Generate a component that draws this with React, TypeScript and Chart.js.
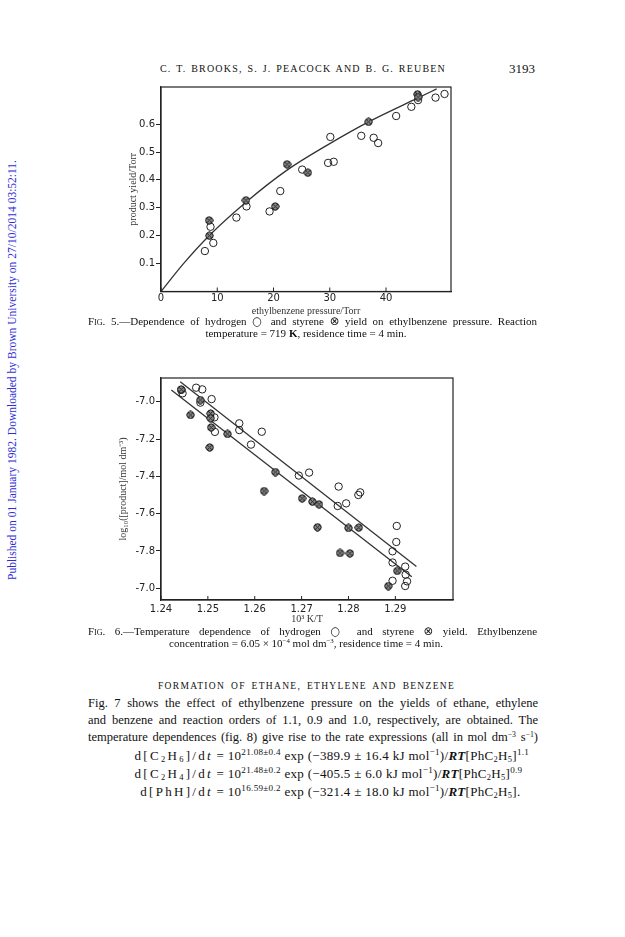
import React, { useEffect, useRef } from "react";
import { Chart, registerables } from "chart.js";
Chart.register(...registerables);

// ---------- Fig. 5 data ----------
const h2Pressure = [7.8, 8.8, 9.3, 13.4, 15.2, 19.3, 21.2, 25.1, 29.7, 30.7, 30.1, 35.6, 37.8, 38.6, 41.8, 44.5, 45.7, 48.8, 50.4];
const h2Yield = [0.145, 0.232, 0.174, 0.265, 0.305, 0.287, 0.36, 0.437, 0.461, 0.465, 0.554, 0.558, 0.551, 0.532, 0.629, 0.662, 0.686, 0.695, 0.708];
const styPressure = [8.55, 8.6, 15.1, 20.3, 22.4, 26.1, 36.9, 45.6, 45.7];
const styYield = [0.255, 0.2, 0.327, 0.305, 0.456, 0.426, 0.608, 0.707, 0.697];
const fitPressure = [0, 4, 8.55, 15.1, 22.4, 30, 36.9, 45.6, 49];
const fitYield = [0, 0.1, 0.2, 0.32, 0.435, 0.53, 0.608, 0.693, 0.726];
const fig5XTicks = [0, 10, 20, 30, 40];
const fig5XLabels = ["0", "10", "20", "30", "40"];
const fig5YTicks = [0.1, 0.2, 0.3, 0.4, 0.5, 0.6];
const fig5YLabels = ["0.1", "0.2", "0.3", "0.4", "0.5", "0.6"];

// ---------- Fig. 6 data ----------
const h2InvT = [1.2443, 1.2446, 1.2475, 1.2488, 1.2484, 1.2508, 1.2514, 1.2515, 1.2567, 1.2567, 1.2615, 1.2592, 1.2694, 1.2716, 1.2779, 1.2777, 1.2795, 1.2821, 1.2825, 1.2903, 1.2902, 1.2894, 1.2894, 1.2894, 1.2921, 1.2922, 1.2925, 1.2921];
const h2LogConc = [-6.937, -6.955, -6.925, -6.934, -7.005, -6.986, -7.084, -7.162, -7.116, -7.152, -7.161, -7.23, -7.396, -7.38, -7.455, -7.559, -7.545, -7.5, -7.486, -7.666, -7.752, -7.802, -7.862, -7.96, -7.884, -7.927, -7.963, -7.988];
const styInvT = [1.2443, 1.2463, 1.2484, 1.2506, 1.2506, 1.2507, 1.2504, 1.2542, 1.2644, 1.262, 1.2701, 1.2723, 1.2737, 1.2734, 1.28, 1.2822, 1.2782, 1.2803, 1.2904, 1.2885];
const styLogConc = [-6.934, -7.071, -6.991, -7.063, -7.089, -7.138, -7.245, -7.173, -7.377, -7.479, -7.518, -7.536, -7.55, -7.673, -7.677, -7.675, -7.811, -7.813, -7.907, -7.988];
const h2LineInvT = [1.2441, 1.2945];
const h2LineLog = [-6.893, -7.884];
const styLineInvT = [1.2422, 1.2935];
const styLineLog = [-6.937, -7.938];
const fig6XTicks = [1.24, 1.25, 1.26, 1.27, 1.28, 1.29];
const fig6XLabels = ["1.24", "1.25", "1.26", "1.27", "1.28", "1.29"];
const fig6YTicks = [-7.0, -7.2, -7.4, -7.6, -7.8, -8.0];
const fig6YLabels = ["-7.0", "-7.2", "-7.4", "-7.6", "-7.8", "-7.0"];

const INK = "#222";
const TICK_FONT = { family: '"DejaVu Sans", sans-serif', size: 10 };
const SERIF = '"Liberation Serif", "Times New Roman", serif';

const zip = (xs: number[], ys: number[]) => xs.map((x, i) => ({ x, y: ys[i] }));

function makeCrossCircle(): HTMLCanvasElement {
  const dpr = 3;
  const s = 9;
  const c = document.createElement("canvas");
  c.width = s * dpr;
  c.height = s * dpr;
  const ctx = c.getContext("2d")!;
  ctx.scale(dpr, dpr);
  ctx.beginPath();
  ctx.arc(4.5, 4.5, 3.6, 0, Math.PI * 2);
  ctx.fillStyle = "#8a8a8a";
  ctx.fill();
  ctx.lineWidth = 1;
  ctx.strokeStyle = INK;
  ctx.stroke();
  ctx.beginPath();
  ctx.moveTo(2.0, 2.0);
  ctx.lineTo(7.0, 7.0);
  ctx.moveTo(7.0, 2.0);
  ctx.lineTo(2.0, 7.0);
  ctx.stroke();
  const out = document.createElement("canvas");
  out.width = s;
  out.height = s;
  const o = out.getContext("2d")!;
  o.drawImage(c, 0, 0, s, s);
  return out;
}

const framePlugin = {
  id: "frame",
  afterDraw(chart: any) {
    const { ctx, chartArea: a, scales } = chart;
    ctx.save();
    ctx.strokeStyle = INK;
    ctx.lineWidth = 1.2;
    ctx.strokeRect(a.left, a.top, a.right - a.left, a.bottom - a.top);
    const xs = scales.x;
    ctx.lineWidth = 1;
    xs.ticks.forEach((t: any) => {
      const px = xs.getPixelForValue(t.value);
      ctx.beginPath();
      ctx.moveTo(px, a.bottom);
      ctx.lineTo(px, a.bottom - 4);
      ctx.stroke();
    });
    ctx.restore();
  },
};

function axisX(min: number, max: number, ticks: number[], labels: string[], title: string, height: number, pad: number) {
  return {
    type: "linear",
    min,
    max,
    afterBuildTicks: (s: any) => {
      s.ticks = ticks.map((v) => ({ value: v }));
    },
    afterFit: (s: any) => {
      s.height = height;
    },
    grid: { display: false, drawTicks: false },
    border: { display: true, color: INK, width: 1.2 },
    ticks: {
      color: INK,
      font: TICK_FONT,
      padding: pad,
      maxRotation: 0,
      autoSkip: false,
      callback: (_v: any, i: number) => labels[i],
    },
    title: {
      display: true,
      text: title,
      color: "#333",
      font: { family: SERIF, size: 10 },
      padding: { top: 0, bottom: 0 },
    },
  };
}

function axisY(min: number, max: number, ticks: number[], labels: string[], title: string, titlePad: number) {
  return {
    type: "linear",
    min,
    max,
    afterBuildTicks: (s: any) => {
      s.ticks = ticks.map((v) => ({ value: v }));
    },
    afterFit: (s: any) => {
      s.width = 61;
    },
    grid: { display: true, drawOnChartArea: false, drawTicks: true, tickLength: 5, color: INK, lineWidth: 1 },
    border: { display: true, color: INK, width: 1.2 },
    ticks: {
      color: INK,
      font: TICK_FONT,
      padding: 1,
      autoSkip: false,
      callback: (_v: any, i: number) => labels[i],
    },
    title: {
      display: true,
      text: title,
      color: "#333",
      font: { family: SERIF, size: 10 },
      padding: { top: titlePad, bottom: 0 },
    },
  };
}

function pointSet(label: string, data: any[], styrene: boolean, img: HTMLCanvasElement) {
  return styrene
    ? { label, data, showLine: false, pointStyle: img, pointRadius: 4.5, order: 1 }
    : {
        label,
        data,
        showLine: false,
        pointStyle: "circle",
        pointRadius: 3.7,
        borderWidth: 1,
        borderColor: INK,
        backgroundColor: "rgba(0,0,0,0)",
        order: 2,
      };
}

function lineSet(label: string, data: any[], smooth: boolean) {
  return {
    label,
    data,
    showLine: true,
    pointRadius: 0,
    borderColor: "#333",
    borderWidth: 1.3,
    tension: smooth ? 0.4 : 0,
    cubicInterpolationMode: smooth ? "monotone" : "default",
    order: 5,
  };
}

function Fig5() {
  const ref = useRef<HTMLCanvasElement>(null);
  useEffect(() => {
    const img = makeCrossCircle();
    const chart = new Chart(ref.current!, {
      type: "scatter",
      data: {
        datasets: [
          pointSet("hydrogen", zip(h2Pressure, h2Yield), false, img),
          pointSet("styrene", zip(styPressure, styYield), true, img),
          lineSet("fit", zip(fitPressure, fitYield), true),
        ] as any,
      },
      options: {
        responsive: false,
        animation: false,
        layout: { padding: { top: 7, right: 19, left: 0, bottom: 0 } },
        plugins: { legend: { display: false }, tooltip: { enabled: false } },
        scales: {
          x: axisX(0, 51.55, fig5XTicks, fig5XLabels, "ethylbenzene pressure/Torr", 25.5, 0.5),
          y: axisY(0, 0.733, fig5YTicks, fig5YLabels, "product yield/Torr", 27),
        } as any,
      },
      plugins: [framePlugin],
    });
    return () => chart.destroy();
  }, []);
  return <canvas ref={ref} width={370} height={237} style={{ position: "absolute", left: 100, top: 80 }} />;
}

function Fig6() {
  const ref = useRef<HTMLCanvasElement>(null);
  useEffect(() => {
    const img = makeCrossCircle();
    const chart = new Chart(ref.current!, {
      type: "scatter",
      data: {
        datasets: [
          pointSet("hydrogen", zip(h2InvT, h2LogConc), false, img),
          pointSet("styrene", zip(styInvT, styLogConc), true, img),
          lineSet("hydrogen fit", zip(h2LineInvT, h2LineLog), false),
          lineSet("styrene fit", zip(styLineInvT, styLineLog), false),
        ] as any,
      },
      options: {
        responsive: false,
        animation: false,
        layout: { padding: { top: 8, right: 17, left: 0, bottom: 0 } },
        plugins: { legend: { display: false }, tooltip: { enabled: false } },
        scales: {
          x: axisX(1.24, 1.3023, fig6XTicks, fig6XLabels, "10³ K/T", 25, 3),
          y: axisY(-8.063, -6.873, fig6YTicks, fig6YLabels, "log₁₀([product]/mol dm⁻³)", 17.5),
        } as any,
      },
      plugins: [framePlugin],
    });
    return () => chart.destroy();
  }, []);
  return <canvas ref={ref} width={370} height={255} style={{ position: "absolute", left: 100, top: 370 }} />;
}

type LineProps = {
  cy: number;
  left: number;
  width: number;
  size: number;
  align?: "justify" | "center" | "left" | "right";
  style?: React.CSSProperties;
  children: React.ReactNode;
};

function TextLine({ cy, left, width, size, align = "justify", style, children }: LineProps) {
  const lh = Math.round(size * 1.3);
  return (
    <div
      style={{
        position: "absolute",
        left,
        top: cy - lh / 2,
        width,
        height: lh,
        lineHeight: lh + "px",
        fontSize: size,
        whiteSpace: "nowrap",
        textAlign: align as any,
        textAlignLast: align as any,
        ...style,
      }}
    >
      {children}
    </div>
  );
}

const sub = (t: string) => <sub style={{ fontSize: "0.65em", verticalAlign: "-0.25em", lineHeight: 0 }}>{t}</sub>;
const sup = (t: string) => <sup style={{ fontSize: "0.62em", verticalAlign: "0.55em", lineHeight: 0 }}>{t}</sup>;
const esup = (t: string) => <sup style={{ fontSize: "0.7em", verticalAlign: "0.5em", lineHeight: 0 }}>{t}</sup>;
const RT = <b><i>RT</i></b>;
const dt = <>d<i>t</i></>;
const sym = (t: string) => <span style={{ fontFamily: '"DejaVu Sans", sans-serif', fontSize: "1.05em" }}>{t}</span>;

export default function App() {
  const eqLeft = 213;
  const eqSize = 13;
  const eqLeftStyle: React.CSSProperties = { letterSpacing: 2.3 };
  const eqRightStyle: React.CSSProperties = { letterSpacing: 0.3 };
  return (
    <div
      style={{
        position: "absolute",
        left: 0,
        top: 0,
        width: 625,
        height: 937,
        background: "#fff",
        color: "#111",
        fontFamily: SERIF,
        overflow: "hidden",
      }}
    >
      {/* side watermark */}
      <div
        style={{
          position: "absolute",
          left: 12 - 210,
          top: 370 - 7,
          width: 420,
          height: 14,
          lineHeight: "14px",
          fontSize: 11.5,
          color: "rgb(45,45,215)",
          whiteSpace: "nowrap",
          textAlign: "justify",
          textAlignLast: "justify" as any,
          transform: "rotate(-90deg)",
          transformOrigin: "50% 50%",
        }}
      >
        Published on 01 January 1982. Downloaded by Brown University on 27/10/2014 03:52:11.
      </div>

      {/* running header */}
      <TextLine cy={68} left={160} width={286} size={10} style={{ letterSpacing: 1.2 }}>
        C. T. BROOKS, S. J. PEACOCK AND B. G. REUBEN
      </TextLine>
      <TextLine cy={68} left={509} width={32} size={13} align="left">
        3193
      </TextLine>

      <Fig5 />

      <TextLine cy={321} left={88} width={449} size={11}>
        <span style={{ fontVariant: "small-caps" }}>Fig.</span> 5.—Dependence of hydrogen {sym("○")} and styrene {sym("⊗")} yield on ethylbenzene pressure. Reaction
      </TextLine>
      <TextLine cy={333} left={88} width={436} size={11} align="center">
        temperature = 719 <b>K</b>, residence time = 4 min.
      </TextLine>

      <Fig6 />

      <TextLine cy={631} left={88} width={449} size={11}>
        <span style={{ fontVariant: "small-caps" }}>Fig.</span> 6.—Temperature dependence of hydrogen {sym("○")} and styrene {sym("⊗")} yield. Ethylbenzene
      </TextLine>
      <TextLine cy={643} left={88} width={436} size={11} align="center">
        concentration = 6.05 × 10{sup("−4")} mol dm{sup("−3")}, residence time = 4 min.
      </TextLine>

      <TextLine cy={686} left={158} width={297} size={9.5} style={{ letterSpacing: 1.3 }}>
        FORMATION OF ETHANE, ETHYLENE AND BENZENE
      </TextLine>

      <TextLine cy={703} left={88} width={450} size={12.5}>
        Fig. 7 shows the effect of ethylbenzene pressure on the yields of ethane, ethylene
      </TextLine>
      <TextLine cy={720} left={88} width={450} size={12.5}>
        and benzene and reaction orders of 1.1, 0.9 and 1.0, respectively, are obtained. The
      </TextLine>
      <TextLine cy={737} left={88} width={450} size={12.5}>
        temperature dependences (fig. 8) give rise to the rate expressions (all in mol dm{sup("−3")} s{sup("−1")})
      </TextLine>

      <TextLine cy={755} left={40} width={eqLeft - 40} size={eqSize} align="right" style={eqLeftStyle}>
        d[C{sub("2")}H{sub("6")}]/{dt}
      </TextLine>
      <TextLine cy={755} left={eqLeft} width={360} size={eqSize} align="left" style={eqRightStyle}>
        {"\u00a0"}= 10{esup("21.08±0.4")} exp (−389.9 ± 16.4 kJ mol{esup("−1")})/{RT}[PhC{sub("2")}H{sub("5")}]{esup("1.1")}
      </TextLine>
      <TextLine cy={773} left={40} width={eqLeft - 40} size={eqSize} align="right" style={eqLeftStyle}>
        d[C{sub("2")}H{sub("4")}]/{dt}
      </TextLine>
      <TextLine cy={773} left={eqLeft} width={360} size={eqSize} align="left" style={eqRightStyle}>
        {"\u00a0"}= 10{esup("21.48±0.2")} exp (−405.5 ± 6.0 kJ mol{esup("−1")})/{RT}[PhC{sub("2")}H{sub("5")}]{esup("0.9")}
      </TextLine>
      <TextLine cy={791} left={40} width={eqLeft - 40} size={eqSize} align="right" style={eqLeftStyle}>
        d[PhH]/{dt}
      </TextLine>
      <TextLine cy={791} left={eqLeft} width={360} size={eqSize} align="left" style={eqRightStyle}>
        {"\u00a0"}= 10{esup("16.59±0.2")} exp (−321.4 ± 18.0 kJ mol{esup("−1")})/{RT}[PhC{sub("2")}H{sub("5")}].
      </TextLine>
    </div>
  );
}
